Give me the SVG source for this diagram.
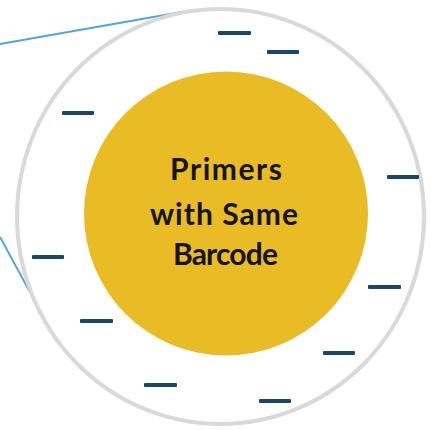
<svg xmlns="http://www.w3.org/2000/svg" width="431" height="430" viewBox="0 0 431 430">
<style>
.dash{fill:#1b4470}
.conn{stroke:#4ea6dc;stroke-width:2;fill:none}
.lbl{font-family:Lato,"Liberation Sans",sans-serif;font-weight:bold;font-size:30px;fill:#141414;text-anchor:middle}
</style>
<rect width="431" height="430" fill="#ffffff"/>
<g id="connectors">
<line class="conn" x1="0" y1="44" x2="193" y2="10"/>
<line class="conn" x1="0" y1="237" x2="57" y2="342"/>
</g>
<g id="outer">
<ellipse cx="220.5" cy="216.5" rx="203.5" ry="207.5" fill="none" stroke="#d9d9d9" stroke-width="4"/>
</g>
<g id="core">
<circle cx="226" cy="213.5" r="142" fill="#e9bb25"/>
<text class="lbl" x="226" y="180" textLength="112" lengthAdjust="spacing">Primers</text>
<text class="lbl" x="224" y="225" textLength="148" lengthAdjust="spacing">with Same</text>
<text class="lbl" x="225.5" y="265" textLength="105" lengthAdjust="spacing">Barcode</text>
</g>
<g id="primers">
<rect class="dash" x="218" y="31" width="33" height="4" rx="1"/>
<rect class="dash" x="267" y="50" width="32" height="4" rx="1"/>
<rect class="dash" x="62" y="111" width="32" height="4" rx="1"/>
<rect class="dash" x="387" y="175" width="32" height="4" rx="1"/>
<rect class="dash" x="32" y="255" width="32" height="4" rx="1"/>
<rect class="dash" x="368" y="285" width="33" height="4" rx="1"/>
<rect class="dash" x="80" y="319" width="33" height="4" rx="1"/>
<rect class="dash" x="323" y="351" width="32" height="4" rx="1"/>
<rect class="dash" x="144" y="383" width="33" height="4" rx="1"/>
<rect class="dash" x="259" y="399" width="32" height="4" rx="1"/>
</g>
</svg>
